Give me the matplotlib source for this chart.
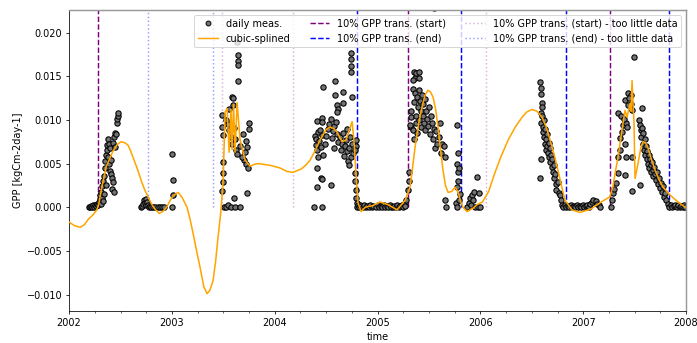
import numpy as np
import matplotlib
matplotlib.use('Agg')
import matplotlib.pyplot as plt
from matplotlib.lines import Line2D

# daily measurements (decimal year, GPP)
meas_2002 = [
    (2002.19, 0.0), (2002.20, 0.0), (2002.21, 0.0001), (2002.22, 0.0), (2002.23, 0.0002),
    (2002.24, 0.0), (2002.25, 0.0003), (2002.26, 0.0001), (2002.27, 0.0004), (2002.28, 0.0002),
    (2002.29, 0.0006), (2002.30, 0.0009), (2002.30, 0.0014), (2002.31, 0.0004), (2002.31, 0.0018),
    (2002.32, 0.0011), (2002.32, 0.0024), (2002.33, 0.0007), (2002.33, 0.0030), (2002.34, 0.0015),
    (2002.34, 0.0036), (2002.35, 0.0045), (2002.35, 0.0053), (2002.36, 0.0060), (2002.36, 0.0026),
    (2002.37, 0.0066), (2002.37, 0.0071), (2002.38, 0.0078), (2002.38, 0.0058), (2002.39, 0.0049),
    (2002.39, 0.0073), (2002.40, 0.0042), (2002.40, 0.0068), (2002.41, 0.0038), (2002.41, 0.0054),
    (2002.42, 0.0033), (2002.42, 0.0021), (2002.43, 0.0074), (2002.43, 0.0029), (2002.44, 0.0080),
    (2002.44, 0.0017), (2002.45, 0.0085), (2002.45, 0.0069), (2002.46, 0.0084), (2002.47, 0.0097),
    (2002.47, 0.0101), (2002.48, 0.0105), (2002.48, 0.0108),
    (2002.70, 0.0), (2002.71, 0.0001), (2002.72, 0.0004), (2002.73, 0.0008), (2002.74, 0.0005),
    (2002.75, 0.0009), (2002.75, 0.0002), (2002.76, 0.0006), (2002.77, 0.0003), (2002.78, 0.0),
    (2002.79, 0.0001), (2002.80, 0.0), (2002.82, 0.0), (2002.84, 0.0), (2002.86, 0.0),
    (2002.88, 0.0), (2002.90, 0.0), (2002.92, 0.0),
]
meas_2003 = [
    (2003.00, 0.0061), (2003.01, 0.0031), (2003.01, 0.0014), (2003.00, 0.0),
    (2003.49, 0.0106), (2003.49, 0.0092), (2003.50, 0.0083), (2003.50, 0.0052), (2003.50, 0.0039),
    (2003.50, 0.0029), (2003.49, 0.0019), (2003.51, 0.0), (2003.53, 0.0), (2003.55, 0.0002),
    (2003.57, 0.0), (2003.61, 0.0), (2003.66, 0.0), (2003.60, 0.0011), (2003.73, 0.0016),
    (2003.58, 0.0126), (2003.59, 0.0125), (2003.56, 0.0113), (2003.59, 0.0117), (2003.64, 0.0174),
    (2003.64, 0.0168), (2003.64, 0.0163), (2003.645, 0.0145), (2003.63, 0.0189),
    (2003.53, 0.0100), (2003.55, 0.0095), (2003.56, 0.0088), (2003.57, 0.0081), (2003.58, 0.0072),
    (2003.60, 0.0091), (2003.61, 0.0078), (2003.62, 0.0066), (2003.63, 0.0061), (2003.75, 0.0096),
    (2003.75, 0.0090), (2003.69, 0.0084), (2003.72, 0.0076), (2003.73, 0.0069), (2003.71, 0.0063),
    (2003.70, 0.0054), (2003.72, 0.0050), (2003.74, 0.0045), (2003.66, 0.0070), (2003.68, 0.0058),
]
meas_2004 = [
    (2004.38, 0.0), (2004.46, 0.0), (2004.41, 0.0099), (2004.46, 0.0102), (2004.46, 0.0098),
    (2004.47, 0.0138), (2004.59, 0.0145), (2004.66, 0.0132), (2004.59, 0.0128), (2004.75, 0.0126),
    (2004.66, 0.0119), (2004.61, 0.0117), (2004.62, 0.0113), (2004.61, 0.0109), (2004.41, 0.0045),
    (2004.45, 0.0034), (2004.46, 0.0032), (2004.41, 0.0023), (2004.55, 0.0025), (2004.74, 0.0177),
    (2004.74, 0.0170), (2004.74, 0.0162), (2004.745, 0.0155),
    (2004.39, 0.0082), (2004.40, 0.0078), (2004.40, 0.0071), (2004.41, 0.0065), (2004.42, 0.0086),
    (2004.42, 0.0058), (2004.43, 0.0076), (2004.44, 0.0088), (2004.45, 0.0069), (2004.46, 0.0083),
    (2004.47, 0.0060), (2004.49, 0.0073), (2004.50, 0.0082), (2004.52, 0.0090), (2004.53, 0.0095),
    (2004.55, 0.0101), (2004.56, 0.0079), (2004.57, 0.0087), (2004.58, 0.0093), (2004.58, 0.0068),
    (2004.60, 0.0098), (2004.61, 0.0084), (2004.62, 0.0075), (2004.63, 0.0080), (2004.64, 0.0066),
    (2004.65, 0.0072), (2004.66, 0.0085), (2004.67, 0.0059), (2004.68, 0.0070), (2004.69, 0.0077),
    (2004.70, 0.0064), (2004.71, 0.0053), (2004.72, 0.0068), (2004.73, 0.0081), (2004.74, 0.0057),
    (2004.75, 0.0072), (2004.76, 0.0062), (2004.70, 0.0090), (2004.72, 0.0048),
    (2004.79, 0.0077), (2004.79, 0.0070), (2004.785, 0.0065), (2004.78, 0.0039), (2004.78, 0.0030),
    (2004.79, 0.0020), (2004.79, 0.0011), (2004.80, 0.0005), (2004.80, 0.0), (2004.81, 0.0002),
    (2004.82, 0.0), (2004.83, 0.0003), (2004.84, 0.0001), (2004.86, 0.0), (2004.87, 0.0002),
    (2004.89, 0.0), (2004.90, 0.0001), (2004.92, 0.0), (2004.93, 0.0003), (2004.95, 0.0),
    (2004.96, 0.0001), (2004.98, 0.0),
]
meas_2005 = [
    (2005.00, 0.0002), (2005.01, 0.0), (2005.03, 0.0001), (2005.04, 0.0), (2005.06, 0.0003),
    (2005.07, 0.0), (2005.09, 0.0001), (2005.10, 0.0), (2005.12, 0.0002), (2005.13, 0.0),
    (2005.15, 0.0), (2005.16, 0.0001), (2005.18, 0.0), (2005.19, 0.0002), (2005.21, 0.0),
    (2005.22, 0.0001), (2005.24, 0.0003), (2005.25, 0.0), (2005.26, 0.0004), (2005.27, 0.0001),
    (2005.28, 0.0008), (2005.30, 0.0020), (2005.31, 0.0040), (2005.31, 0.0030), (2005.33, 0.0092),
    (2005.32, 0.0094), (2005.34, 0.0136), (2005.33, 0.0103), (2005.35, 0.0155), (2005.36, 0.0148),
    (2005.34, 0.0146), (2005.37, 0.0154), (2005.40, 0.0155), (2005.40, 0.0148),
    (2005.33, 0.0110), (2005.34, 0.0088), (2005.35, 0.0120), (2005.35, 0.0078), (2005.36, 0.0131),
    (2005.37, 0.0105), (2005.37, 0.0096), (2005.38, 0.0126), (2005.38, 0.0085), (2005.39, 0.0115),
    (2005.40, 0.0134), (2005.40, 0.0100), (2005.41, 0.0122), (2005.42, 0.0110), (2005.42, 0.0092),
    (2005.43, 0.0128), (2005.44, 0.0118), (2005.44, 0.0104), (2005.45, 0.0097), (2005.46, 0.0124),
    (2005.46, 0.0088), (2005.47, 0.0110), (2005.48, 0.0101), (2005.49, 0.0093), (2005.50, 0.0115),
    (2005.51, 0.0084), (2005.52, 0.0105), (2005.53, 0.0096), (2005.54, 0.0078), (2005.55, 0.0090),
    (2005.56, 0.0068), (2005.57, 0.0087), (2005.58, 0.0073), (2005.60, 0.0080), (2005.61, 0.0096),
    (2005.62, 0.0062), (2005.63, 0.0073), (2005.65, 0.0070), (2005.66, 0.0058), (2005.55, 0.0228),
    (2005.77, 0.0094), (2005.78, 0.0062), (2005.77, 0.0050), (2005.78, 0.0040), (2005.78, 0.0030),
    (2005.77, 0.0023), (2005.66, 0.0008), (2005.67, 0.0), (2005.76, 0.0005), (2005.77, 0.0),
    (2005.79, 0.0008), (2005.80, 0.0015), (2005.79, 0.0045),
    (2005.87, 0.0), (2005.89, 0.0005), (2005.90, 0.0010), (2005.91, 0.0003), (2005.92, 0.0014),
    (2005.93, 0.0008), (2005.94, 0.0017), (2005.95, 0.0), (2005.97, 0.0035), (2005.98, 0.0),
    (2005.99, 0.0016), (2006.00, 0.0),
]
meas_2006 = [
    (2006.58, 0.0143), (2006.59, 0.0137), (2006.59, 0.0130), (2006.60, 0.0119), (2006.60, 0.0115),
    (2006.59, 0.0097), (2006.62, 0.0100), (2006.575, 0.0034), (2006.585, 0.0055),
    (2006.59, 0.0108), (2006.60, 0.0104), (2006.61, 0.0092), (2006.61, 0.0086), (2006.62, 0.0080),
    (2006.63, 0.0090), (2006.63, 0.0072), (2006.64, 0.0078), (2006.64, 0.0066), (2006.65, 0.0084),
    (2006.65, 0.0070), (2006.66, 0.0062), (2006.67, 0.0074), (2006.67, 0.0058), (2006.68, 0.0068),
    (2006.68, 0.0052), (2006.69, 0.0060), (2006.70, 0.0046), (2006.70, 0.0055), (2006.71, 0.0040),
    (2006.72, 0.0048), (2006.72, 0.0033), (2006.73, 0.0038), (2006.74, 0.0027), (2006.74, 0.0020),
    (2006.75, 0.0029), (2006.76, 0.0016), (2006.77, 0.0014), (2006.78, 0.0008), (2006.79, 0.0003),
    (2006.80, 0.0), (2006.82, 0.0002), (2006.83, 0.0), (2006.85, 0.0001), (2006.86, 0.0),
    (2006.88, 0.0002), (2006.89, 0.0), (2006.91, 0.0001), (2006.92, 0.0), (2006.94, 0.0002),
    (2006.95, 0.0), (2006.97, 0.0001), (2006.98, 0.0), (2007.00, 0.0002), (2007.01, 0.0),
    (2007.03, 0.0001), (2007.04, 0.0003), (2007.06, 0.0), (2007.07, 0.0004), (2007.09, 0.0006),
    (2007.10, 0.0008), (2007.12, 0.0007), (2007.13, 0.0004), (2007.15, 0.0002), (2007.16, 0.0),
]
meas_2007 = [
    (2007.27, 0.0), (2007.29, 0.0016), (2007.32, 0.0028), (2007.34, 0.0057), (2007.36, 0.0079),
    (2007.34, 0.0108), (2007.37, 0.0105), (2007.39, 0.0094), (2007.41, 0.0123), (2007.44, 0.0131),
    (2007.46, 0.0128), (2007.46, 0.0118), (2007.47, 0.0111), (2007.42, 0.0096), (2007.41, 0.0073),
    (2007.42, 0.0057), (2007.47, 0.0057), (2007.41, 0.0037), (2007.34, 0.0039), (2007.28, 0.0008),
    (2007.30, 0.0021), (2007.36, 0.0065), (2007.38, 0.0086), (2007.40, 0.0101), (2007.43, 0.0092),
    (2007.44, 0.0117), (2007.45, 0.0125), (2007.49, 0.0172), (2007.57, 0.0114), (2007.55, 0.0025),
    (2007.47, 0.0019),
    (2007.54, 0.0100), (2007.55, 0.0094), (2007.56, 0.0088), (2007.56, 0.0080), (2007.57, 0.0091),
    (2007.58, 0.0073), (2007.58, 0.0085), (2007.59, 0.0066), (2007.60, 0.0078), (2007.60, 0.0060),
    (2007.61, 0.0070), (2007.62, 0.0055), (2007.62, 0.0064), (2007.63, 0.0050), (2007.64, 0.0060),
    (2007.64, 0.0045), (2007.65, 0.0055), (2007.66, 0.0048), (2007.66, 0.0040), (2007.67, 0.0052),
    (2007.68, 0.0043), (2007.68, 0.0036), (2007.69, 0.0046), (2007.70, 0.0038), (2007.71, 0.0031),
    (2007.72, 0.0040), (2007.73, 0.0027), (2007.74, 0.0033), (2007.75, 0.0022), (2007.76, 0.0028),
    (2007.77, 0.0018), (2007.78, 0.0024), (2007.79, 0.0012), (2007.80, 0.0016), (2007.81, 0.0008),
    (2007.82, 0.0004), (2007.83, 0.0), (2007.85, 0.0002), (2007.86, 0.0), (2007.88, 0.0001),
    (2007.89, 0.0003), (2007.91, 0.0), (2007.92, 0.0002), (2007.94, 0.0), (2007.95, 0.0001),
    (2007.97, 0.0), (2007.98, 0.0002), (2007.99, 0.0),
]

# cubic-splined curve
spline = [
    (2002.00, -0.0017), (2002.05, -0.0021), (2002.107, -0.0023), (2002.15, -0.0020),
    (2002.185, -0.0014), (2002.23, -0.0009), (2002.27, -0.0003), (2002.29, 0.0004),
    (2002.31, 0.0018), (2002.36, 0.0046), (2002.43, 0.0065), (2002.47, 0.0072),
    (2002.505, 0.0075), (2002.54, 0.0074), (2002.574, 0.0071), (2002.60, 0.0064),
    (2002.632, 0.0054), (2002.67, 0.0042), (2002.70, 0.0031), (2002.735, 0.0020),
    (2002.768, 0.0012), (2002.80, 0.0004), (2002.827, -0.0001), (2002.875, -0.0007),
    (2002.91, -0.0005), (2002.943, -0.0001), (2002.98, 0.0007), (2003.01, 0.0013),
    (2003.06, 0.0017), (2003.10, 0.0011), (2003.147, 0.0), (2003.175, -0.0013),
    (2003.206, -0.0030), (2003.24, -0.0050), (2003.274, -0.0069), (2003.31, -0.0091),
    (2003.342, -0.0099), (2003.37, -0.0095), (2003.40, -0.0084), (2003.425, -0.0062),
    (2003.449, -0.0034), (2003.475, -0.0006), (2003.498, 0.0030), (2003.517, 0.0109),
    (2003.537, 0.0113), (2003.556, 0.0063), (2003.575, 0.0112), (2003.585, 0.0066),
    (2003.60, 0.0118), (2003.614, 0.0063), (2003.634, 0.0120), (2003.663, 0.0077),
    (2003.712, 0.0054), (2003.76, 0.0047), (2003.80, 0.0049), (2003.838, 0.0050),
    (2003.90, 0.0049), (2003.955, 0.0048), (2004.05, 0.0045), (2004.12, 0.0041),
    (2004.178, 0.0040), (2004.26, 0.0044), (2004.30, 0.0048), (2004.344, 0.0054),
    (2004.39, 0.0064), (2004.44, 0.0077), (2004.50, 0.0089), (2004.538, 0.0092),
    (2004.575, 0.0090), (2004.606, 0.0086), (2004.655, 0.0075), (2004.694, 0.0077),
    (2004.73, 0.0090), (2004.752, 0.0098), (2004.77, 0.0077), (2004.79, 0.0039),
    (2004.81, 0.0005), (2004.84, -0.0005), (2004.88, 0.0), (2004.956, 0.0002),
    (2005.024, 0.0006), (2005.10, 0.0003), (2005.19, -0.0003), (2005.268, 0.0008),
    (2005.316, 0.0023), (2005.34, 0.0045), (2005.365, 0.0069), (2005.40, 0.0096),
    (2005.433, 0.0115), (2005.46, 0.0128), (2005.49, 0.0134), (2005.515, 0.0132),
    (2005.54, 0.0126), (2005.565, 0.0112), (2005.588, 0.0092), (2005.61, 0.0068),
    (2005.637, 0.0042), (2005.66, 0.0025), (2005.686, 0.0017), (2005.72, 0.0018),
    (2005.754, 0.0023), (2005.783, 0.0017), (2005.81, 0.0006), (2005.83, 0.0),
    (2005.87, -0.0005), (2005.93, -0.0001), (2005.968, 0.0003), (2006.02, 0.0006),
    (2006.08, 0.0018), (2006.14, 0.0039), (2006.20, 0.0058), (2006.27, 0.0077),
    (2006.34, 0.0092), (2006.405, 0.0103), (2006.45, 0.0109), (2006.50, 0.0112),
    (2006.55, 0.0110), (2006.60, 0.0103), (2006.64, 0.0092), (2006.678, 0.0077),
    (2006.72, 0.0059), (2006.755, 0.0042), (2006.79, 0.0024), (2006.823, 0.0008),
    (2006.89, -0.0003), (2006.97, -0.0006), (2007.076, -0.0002), (2007.174, 0.0006),
    (2007.26, 0.0012), (2007.29, 0.0024), (2007.31, 0.0039), (2007.335, 0.0055),
    (2007.358, 0.0073), (2007.385, 0.0095), (2007.407, 0.0111), (2007.426, 0.0103),
    (2007.456, 0.0119), (2007.465, 0.0110), (2007.475, 0.0145), (2007.494, 0.0096),
    (2007.504, 0.0033), (2007.533, 0.0050), (2007.56, 0.0068), (2007.582, 0.0075),
    (2007.605, 0.0074), (2007.63, 0.0068), (2007.66, 0.0056), (2007.70, 0.0042),
    (2007.74, 0.0031), (2007.776, 0.0023), (2007.844, 0.0014), (2007.922, 0.0006),
    (2007.99, 0.0),
]

trans_start = [2002.28, 2005.30, 2007.26]
trans_end = [2004.80, 2005.81, 2006.83, 2007.835]
start_little = [2003.49, 2004.18, 2006.055]
end_little = [2002.77, 2003.40]

meas = np.array(meas_2002 + meas_2003 + meas_2004 + meas_2005 + meas_2006 + meas_2007)
spl = np.array(spline)

fig = plt.figure(figsize=(9.97, 4.9), dpi=70)
ax = fig.add_axes([0.099, 0.093, 0.884, 0.878])

ax.scatter(meas[:, 0], meas[:, 1], s=30, c='0.45', edgecolors='k', linewidths=1.1, zorder=2)
ax.plot(spl[:, 0], spl[:, 1], color='orange', lw=1.6, zorder=3)

ax.vlines(trans_start, 0, 0.03, colors='purple', linestyles='--', lw=1.5, zorder=1)
ax.vlines(trans_end, 0, 0.03, colors='blue', linestyles='--', lw=1.5, zorder=1)
ax.vlines(start_little, 0, 0.03, colors='purple', linestyles=':', lw=1.5, alpha=0.3, zorder=1)
ax.vlines(end_little, 0, 0.03, colors='blue', linestyles=':', lw=1.5, alpha=0.4, zorder=1)

ax.set_xlim(2002, 2008)
ax.set_ylim(-0.0119, 0.0226)
ax.set_xticks(range(2002, 2009))
ax.set_xticklabels([str(y) for y in range(2002, 2009)])
ax.set_xticks(np.arange(2002, 2008.01, 0.25), minor=True)
ax.set_xlabel('time')
ax.set_ylabel('GPP [kgCm-2day-1]')
for s in ['top', 'right']:
    ax.spines[s].set_color('0.6')
    ax.spines[s].set_linewidth(1.5)

handles = [
    Line2D([], [], ls='', marker='o', mfc='0.45', mec='k', ms=5),
    Line2D([], [], color='orange', lw=1.5),
    Line2D([], [], color='purple', ls='--', lw=1.5),
    Line2D([], [], color='blue', ls='--', lw=1.5),
    Line2D([], [], color='purple', ls=':', lw=1.5, alpha=0.3),
    Line2D([], [], color='blue', ls=':', lw=1.5, alpha=0.4),
]
labels = ['daily meas.', 'cubic-splined', '10% GPP trans. (start)', '10% GPP trans. (end)',
          '10% GPP trans. (start) - too little data', '10% GPP trans. (end) - too little data']
ax.legend(handles, labels, loc='upper right', ncol=3)

fig.savefig('out.png', dpi=70)
